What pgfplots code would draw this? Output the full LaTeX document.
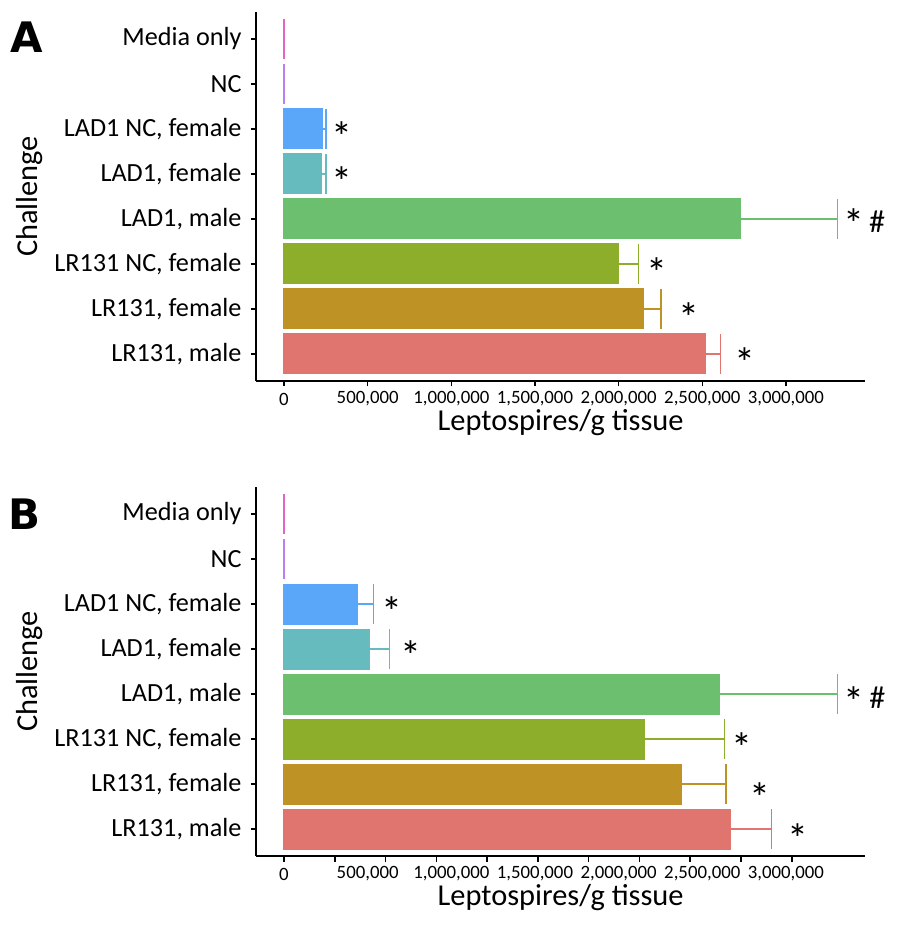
\documentclass[border=0pt]{standalone}
\usepackage{pgfplots}
\pgfplotsset{compat=1.18}
\usepackage{fontspec}
\setmainfont{Carlito}
\newfontfamily\letterfont{DejaVu Sans}
\definecolor{cRM}{RGB}{224,116,110}
\definecolor{cRF}{RGB}{190,146,37}
\definecolor{cRN}{RGB}{140,174,43}
\definecolor{cLM}{RGB}{107,191,110}
\definecolor{cLF}{RGB}{102,187,190}
\definecolor{cLN}{RGB}{90,167,249}
\definecolor{cNC}{RGB}{190,125,240}
\definecolor{cMO}{RGB}{225,100,200}
\tikzset{star/.style={anchor=base west, inner sep=0pt, font=\fontsize{21}{24}\selectfont, yshift=#1},
  hash/.style={anchor=base west, inner sep=0pt, font=\fontsize{16}{19}\selectfont, yshift=#1}}
\pgfplotsset{
  mybar/.style={fill=#1, draw=#1, line width=0.7pt,
    error bars/error bar style={#1, line width=0.75pt},
    error bars/error mark options={#1, line width=0.75pt, mark size=10pt, rotate=90}},
  zerobar/.style={fill=#1, draw=#1, line width=1pt, error bars/x dir=none},
  panel/.style={
    scale only axis, width=304.25pt, height=184.5pt,
    xbar, bar width=0.88, bar shift=0pt,
    xmin=-165000, xmax=3472000, ymin=-0.6, ymax=7.6,
    axis x line*=bottom, axis y line*=left,
    axis line style={line width=1pt, black},
    tick align=outside, major tick length=2.75pt,
    tick style={line width=0.75pt, black},
    ytick={0,...,7},
    yticklabels={{LR131, male},{LR131, female},{LR131 NC, female},{LAD1, male},{LAD1, female},{LAD1 NC, female},{NC},{Media only}},
    yticklabel style={font=\fontsize{13.1}{15}\selectfont, anchor=east, inner sep=0pt, xshift=-4.5pt},
    xticklabel style={font=\fontsize{9.4}{11}\selectfont, anchor=center, yshift=-6.3pt},
    scaled x ticks=false,
    xtick={0,500000,1000000,1500000,2000000,2500000,3000000},
    xticklabels={0,{500,000},{1,000,000},{1,500,000},{2,000,000},{2,500,000},{3,000,000}},
    xlabel={Leptospires/g tissue}, ylabel={Challenge},
    xlabel style={font=\fontsize{15.2}{18}\selectfont, at={(axis description cs:0.5,0)}, anchor=center, yshift=-21pt},
    ylabel style={font=\fontsize{15.2}{18}\selectfont, at={(axis description cs:-0.3721,0.5)}, anchor=center},
    error bars/x dir=plus, error bars/x explicit,
    clip=false,
  },
}
\begin{document}
\begin{tikzpicture}
\useasboundingbox (0,0) rectangle (450pt,462.5pt);
% Panel A
\begin{axis}[panel, at={(128.2pt,272pt)}, anchor=south west]
\addplot[mybar=cRM] coordinates {(2520000,0) +- (88000,0)};
\addplot[mybar=cRF] coordinates {(2150000,1) +- (102000,0)};
\addplot[mybar=cRN] coordinates {(2000000,2) +- (120000,0)};
\addplot[mybar=cLM] coordinates {(2730000,3) +- (577000,0)};
\addplot[mybar=cLF] coordinates {(225000,4) +- (26000,0)};
\addplot[mybar=cLN] coordinates {(231000,5) +- (20000,0)};
\addplot[zerobar=cNC] coordinates {(0,6)};
\addplot[zerobar=cMO] coordinates {(0,7)};
\node[star=-12pt] at (axis cs:2690000,0) {*};
\node[star=-12pt] at (axis cs:2355000,1) {*};
\node[star=-12pt] at (axis cs:2164000,2) {*};
\node[star=-9.75pt] at (axis cs:3339000,3) {*};
\node[hash=-6.75pt] at (axis cs:3495000,3) {\#};
\node[star=-11.25pt] at (axis cs:281000,4) {*};
\node[star=-11.25pt] at (axis cs:281000,5) {*};
\end{axis}
% Panel B (tick marks do not sit under the labels, as in the reference)
\begin{axis}[panel, at={(128.2pt,34.5pt)}, anchor=south west,
  major tick length=0pt, minor tick length=2.75pt,
  minor xtick={0,303500,607000,910500,1214000,1517500,1821000,2124500,2428000,2731500,3035000},
  minor ytick={0,1,2,3,4,5,6,7},
  yticklabel style={xshift=-2.75pt},
  xticklabel style={yshift=-2.75pt}]
\addplot[mybar=cRM] coordinates {(2666000,0) +- (249000,0)};
\addplot[mybar=cRF] coordinates {(2375000,1) +- (267000,0)};
\addplot[mybar=cRN] coordinates {(2152000,2) +- (480000,0)};
\addplot[mybar=cLM] coordinates {(2600000,3) +- (707000,0)};
\addplot[mybar=cLF] coordinates {(508000,4) +- (122000,0)};
\addplot[mybar=cLN] coordinates {(440000,5) +- (94000,0)};
\addplot[zerobar=cNC] coordinates {(0,6)};
\addplot[zerobar=cMO] coordinates {(0,7)};
\node[star=-12pt] at (axis cs:3007000,0) {*};
\node[star=-14.25pt] at (axis cs:2779000,1) {*};
\node[star=-11.5pt] at (axis cs:2672000,2) {*};
\node[star=-11pt] at (axis cs:3341000,3) {*};
\node[hash=-7.25pt] at (axis cs:3497000,3) {\#};
\node[star=-10.75pt] at (axis cs:693000,4) {*};
\node[star=-11.25pt] at (axis cs:580000,5) {*};
\end{axis}
\node[anchor=base west, inner sep=0pt, font=\letterfont\bfseries\fontsize{21}{25}\selectfont] at (5pt,436pt) {A};
\node[anchor=base west, inner sep=0pt, font=\letterfont\bfseries\fontsize{21}{25}\selectfont] at (4pt,197.5pt) {B};
\end{tikzpicture}
\end{document}
